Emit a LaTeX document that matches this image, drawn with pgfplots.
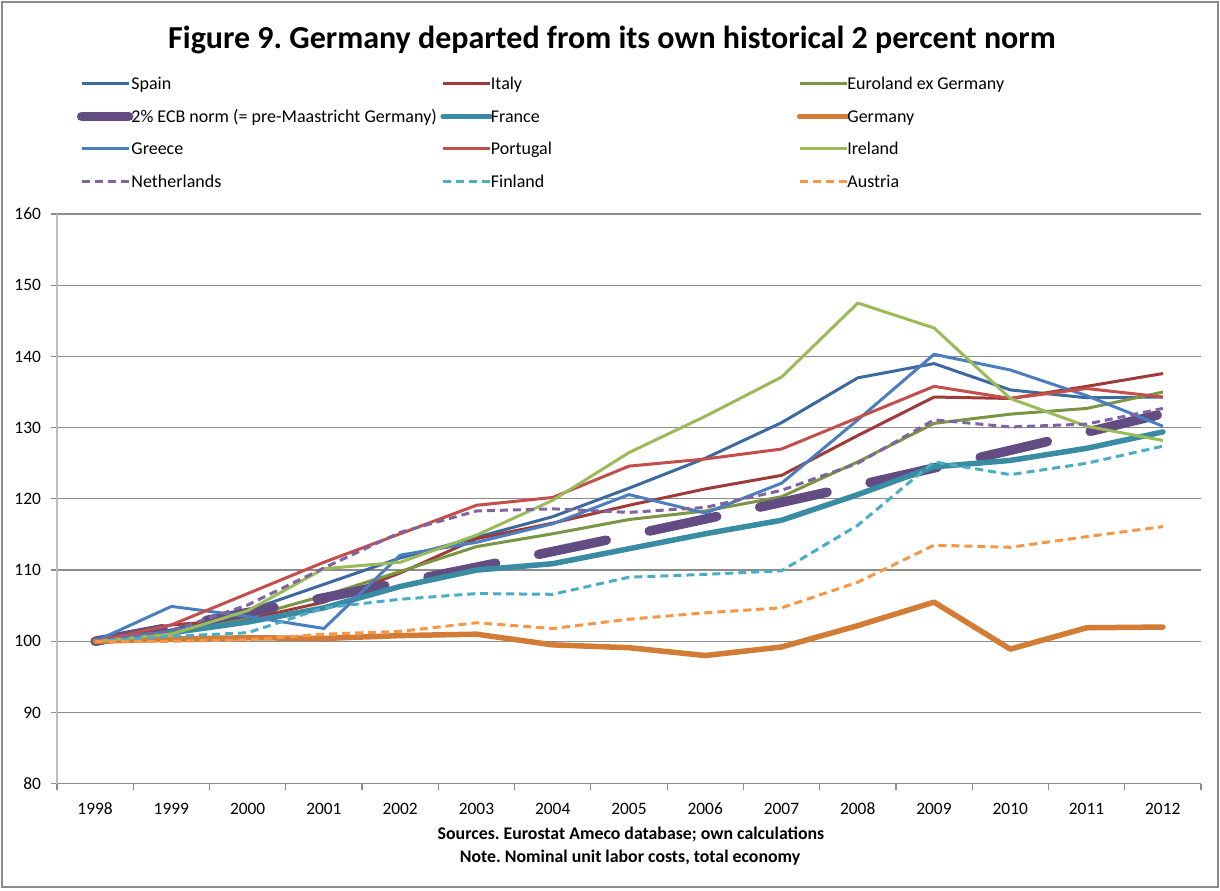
\documentclass[border=0pt]{standalone}
\usepackage{fontspec}
\setmainfont{Carlito}
\usepackage{pgfplots}
\usepackage{pgfplotstable}
\pgfplotsset{compat=1.18}
\frenchspacing
\definecolor{cSpain}{HTML}{3C6A9F}
\definecolor{cItaly}{HTML}{9E3B38}
\definecolor{cEuro}{HTML}{7A9543}
\definecolor{cECB}{HTML}{634C82}
\definecolor{cFrance}{HTML}{3A8CA3}
\definecolor{cGermany}{HTML}{D27C36}
\definecolor{cGreece}{HTML}{4A7EBF}
\definecolor{cPortugal}{HTML}{C24F4C}
\definecolor{cIreland}{HTML}{9BBB59}
\definecolor{cNeth}{HTML}{8064A2}
\definecolor{cFinland}{HTML}{4BACC6}
\definecolor{cAustria}{HTML}{F79646}
\definecolor{cGrid}{HTML}{8C8C8C}
\definecolor{cAxis}{HTML}{BFBFBF}
\pgfplotstableread{
year Spain Italy Euro ECB France Germany Greece Portugal Ireland Neth Finland Austria
1998 100   100   100   100    100   100   100   100   100   100   100   100
1999 101.6 102.3 101.0 102.00 101.2 100.3 104.9 102.3 101.0 101.5 100.7 100.0
2000 104.3 103.1 103.4 104.04 102.7 100.5 103.5 106.7 104.3 105.1 101.2 100.2
2001 108.0 105.5 106.4 106.12 104.7 100.4 101.8 111.1 110.2 110.3 104.7 101.0
2002 111.7 109.6 109.8 108.24 107.7 100.8 112.1 115.1 111.1 115.3 105.9 101.4
2003 114.6 114.4 113.3 110.41 110.0 101.0 113.9 119.1 114.9 118.3 106.7 102.6
2004 117.5 116.6 115.1 112.62 110.9 99.5  116.5 120.2 119.8 118.6 106.6 101.8
2005 121.5 119.1 117.1 114.87 113.0 99.1  120.6 124.6 126.5 118.1 109.0 103.1
2006 125.7 121.4 118.3 117.17 115.1 98.0  118.0 125.6 131.6 118.8 109.4 104.0
2007 130.7 123.3 120.3 119.51 117.0 99.2  122.2 127.0 137.1 121.2 109.9 104.7
2008 137.0 128.9 125.2 121.90 120.6 102.2 131.1 131.4 147.5 125.0 116.3 108.3
2009 139.0 134.3 130.6 124.34 124.5 105.5 140.3 135.8 144.0 131.1 125.2 113.5
2010 135.3 134.1 131.9 126.82 125.4 98.9  138.1 134.1 134.1 130.1 123.4 113.2
2011 134.2 135.8 132.7 129.36 127.1 101.9 134.5 135.5 130.2 130.5 125.0 114.7
2012 134.3 137.6 135.0 131.95 129.4 102.0 130.2 134.3 128.2 132.7 127.4 116.1
}\datatable
\newcommand{\colA}[1]{\makebox[153.5pt][l]{\hspace{-1pt}#1}}
\newcommand{\colB}[1]{\makebox[152pt][l]{\hspace{-1pt}#1}}
\newcommand{\colC}[1]{\makebox[100pt][l]{\hspace{-1pt}#1}}
\begin{document}
\begin{tikzpicture}
\useasboundingbox (0,0) rectangle (610pt,-445pt);
\draw[cGrid, line width=1pt] (1pt,-1pt) rectangle (609pt,-443.5pt);
\node[anchor=base, font=\fontsize{16}{19}\selectfont\bfseries] at (306pt,-24pt)
  {Figure 9. Germany departed from its own historical 2 percent norm};
\begin{axis}[
  at={(28.5pt,-391.85pt)}, anchor=south west,
  scale only axis, width=572pt, height=284.85pt,
  xmin=1997.5, xmax=2012.5, ymin=80, ymax=160,
  xtick={1997.5,1998.5,...,2012.5}, xticklabels={},
  extra x ticks={1998,1999,...,2012},
  extra x tick labels={1998,1999,2000,2001,2002,2003,2004,2005,2006,2007,2008,2009,2010,2011,2012},
  extra x tick style={tick style={draw=none}, xticklabel style={yshift=-3pt}},
  ytick={80,90,...,160},
  yticklabel style={xshift=-1.5pt},
  axis x line*=bottom, axis y line*=left,
  x axis line style={draw=cGrid, line width=0.7pt},
  y axis line style={draw=cAxis, line width=1pt},
  ymajorgrids, major grid style={cGrid, line width=0.6pt},
  tick align=outside, major tick length=3pt,
  tick style={cGrid, line width=0.6pt},
  tick label style={font=\fontsize{8.7}{10}\selectfont, /pgf/number format/assume math mode=true},
  legend columns=3,
  legend cell align=left,
  legend image code/.code={\draw[#1] (0pt,0pt) -- (23.5pt,0pt);},
  legend style={draw=none, fill=none, inner sep=0pt, column sep=0pt, row sep=10.25pt,
    at={(axis description cs:0,1)}, anchor=north west, xshift=9.75pt, yshift=68.25pt,
    font=\fontsize{9}{10}\selectfont,
    nodes={inner sep=0pt, text height=6pt, text depth=0pt, anchor=west}},
]
\addplot[cSpain, line width=1.5pt, line join=round] table[x=year,y=Spain]{\datatable};
\addlegendentry{\colA{Spain}}
\addplot[cItaly, line width=1.5pt, line join=round] table[x=year,y=Italy]{\datatable};
\addlegendentry{\colB{Italy}}
\addplot[cEuro, line width=1.5pt, line join=round] table[x=year,y=Euro]{\datatable};
\addlegendentry{\colC{Euroland ex Germany}}
\addplot[cECB, line width=4.75pt, line cap=round, line join=round, dash pattern=on 34.5pt off 22pt] table[x=year,y=ECB]{\datatable};
\addlegendentry{\colA{2\% ECB norm (= pre-Maastricht Germany)}}
\addplot[cFrance, line width=2.75pt, line cap=round, line join=round] table[x=year,y=France]{\datatable};
\addlegendentry{\colB{France}}
\addplot[cGermany, line width=2.75pt, line cap=round, line join=round] table[x=year,y=Germany]{\datatable};
\addlegendentry{\colC{Germany}}
\addplot[cGreece, line width=1.5pt, line join=round] table[x=year,y=Greece]{\datatable};
\addlegendentry{\colA{Greece}}
\addplot[cPortugal, line width=1.5pt, line join=round] table[x=year,y=Portugal]{\datatable};
\addlegendentry{\colB{Portugal}}
\addplot[cIreland, line width=1.5pt, line join=round] table[x=year,y=Ireland]{\datatable};
\addlegendentry{\colC{Ireland}}
\addplot[cNeth, line width=1.5pt, line join=round, dash pattern=on 4pt off 2.5pt] table[x=year,y=Neth]{\datatable};
\addlegendentry{\colA{Netherlands}}
\addplot[cFinland, line width=1.5pt, line join=round, dash pattern=on 4pt off 2.5pt] table[x=year,y=Finland]{\datatable};
\addlegendentry{\colB{Finland}}
\addplot[cAustria, line width=1.5pt, line join=round, dash pattern=on 4pt off 2.5pt] table[x=year,y=Austria]{\datatable};
\addlegendentry{\colC{Austria}}
\end{axis}
\node[anchor=base, font=\fontsize{8.9}{10}\selectfont\bfseries] at (315.5pt,-419.5pt)
  {Sources. Eurostat Ameco database; own calculations};
\node[anchor=base, font=\fontsize{8.9}{10}\selectfont\bfseries] at (315pt,-431pt)
  {Note. Nominal unit labor costs, total economy};
\end{tikzpicture}
\end{document}
